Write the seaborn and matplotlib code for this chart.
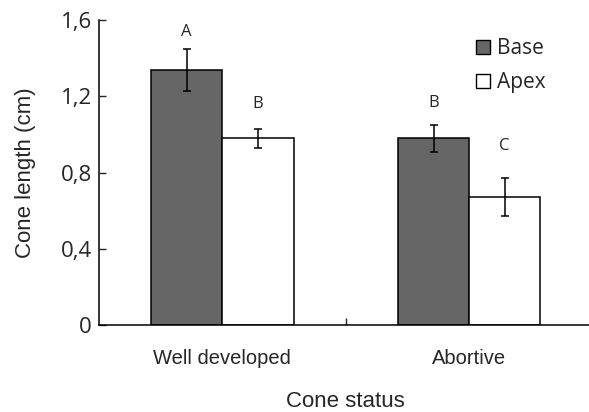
import pandas as pd
import seaborn as sns
import matplotlib.pyplot as plt
from matplotlib.patches import Patch

# values
status = ['Well developed', 'Abortive']
base_mean = [1.34, 0.98]
base_err = [0.11, 0.07]
apex_mean = [0.98, 0.67]
apex_err = [0.05, 0.10]
base_letters = ['A', 'B']
apex_letters = ['B', 'C']
base_letter_y = [1.54, 1.165]
apex_letter_y = [1.16, 0.94]

df = pd.DataFrame({
    'status': status * 2,
    'part': ['Base'] * 2 + ['Apex'] * 2,
    'length': base_mean + apex_mean,
})

sns.set_style('white')
plt.rcParams['font.family'] = ['Open Sans', 'DejaVu Sans']

fig = plt.figure(figsize=(5.89, 4.12), dpi=100)
ax = fig.add_axes([0.168, 0.211, 0.838, 0.74])

sns.barplot(data=df, x='status', y='length', hue='part', order=status,
            hue_order=['Base', 'Apex'], palette=['#666666', 'white'],
            width=0.577, edgecolor='black', linewidth=1.1, errorbar=None,
            legend=False, ax=ax)

# bars come out base first, then apex
errs = base_err + apex_err
means = base_mean + apex_mean
letters = base_letters + apex_letters
letter_y = base_letter_y + apex_letter_y
for p, m, e, lt, ly in zip(ax.patches, means, errs, letters, letter_y):
    xc = p.get_x() + p.get_width() / 2
    ax.errorbar(xc, m, yerr=e, fmt='none', ecolor='black', elinewidth=1.1,
                capsize=3, capthick=1.1)
    ax.text(xc, ly, lt, ha='center', va='center', fontsize=12)

ax.set_xlim(-0.5, 1.5)
ax.set_ylim(0, 1.6)
ax.set_yticks([0, 0.4, 0.8, 1.2, 1.6])
ax.set_yticklabels(['0', '0,4', '0,8', '1,2', '1,6'], fontsize=16)
ax.tick_params(axis='y', direction='in', length=5, width=1, left=True, pad=5)
ax.tick_params(axis='x', which='major', length=0, pad=17)
for lab in ax.get_xticklabels():
    lab.set_family('Liberation Sans')
    lab.set_fontsize(14.5)
ax.set_xticks([0.5], minor=True)
ax.tick_params(axis='x', which='minor', direction='in', length=5, width=1, bottom=True)

ax.set_xlabel('Cone status', family='Liberation Sans', fontsize=16)
ax.set_ylabel('Cone length (cm)', family='Liberation Sans', fontsize=16)
ax.xaxis.set_label_coords(0.5, -0.215)
ax.yaxis.set_label_coords(-0.128, 0.5)

sns.despine(ax=ax)
for s in ['left', 'bottom']:
    ax.spines[s].set_color('black')
    ax.spines[s].set_linewidth(1.1)

handles = [Patch(facecolor='#666666', edgecolor='black', label='Base'),
           Patch(facecolor='white', edgecolor='black', label='Apex')]
ax.legend(handles=handles, loc='upper left', bbox_to_anchor=(0.764, 0.94),
          frameon=False, fontsize=15, handlelength=0.67, handleheight=0.67,
          handletextpad=0.33, labelspacing=0.62, borderaxespad=0, borderpad=0)

fig.savefig('out.png', dpi=100)
